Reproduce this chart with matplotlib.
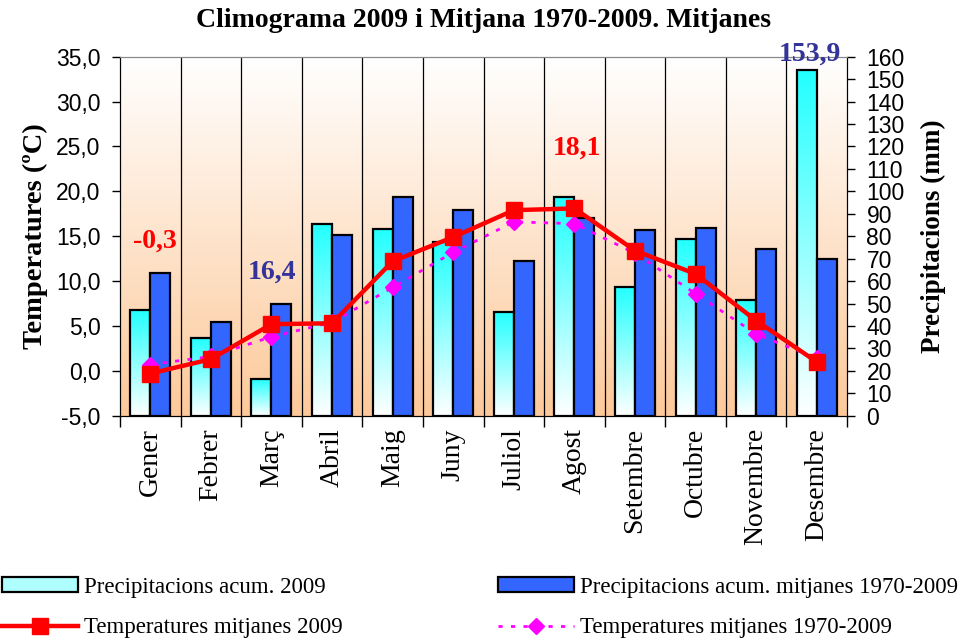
import numpy as np
import matplotlib
matplotlib.use("Agg")
import matplotlib.pyplot as plt
from matplotlib.patches import Patch
from matplotlib.lines import Line2D
from matplotlib.colors import LinearSegmentedColormap

months = ["Gener", "Febrer", "Març", "Abril", "Maig", "Juny",
          "Juliol", "Agost", "Setembre", "Octubre", "Novembre", "Desembre"]
prec_2009 = [47.1, 34.5, 16.4, 85.6, 83.1, 77.6, 46.4, 97.3, 57.5, 78.9, 51.7, 153.9]
prec_mean = [63.4, 41.6, 49.8, 80.5, 97.3, 91.5, 69.1, 88.0, 82.6, 83.8, 74.1, 70.0]
temp_2009 = [-0.3, 1.3, 5.2, 5.3, 12.2, 14.9, 17.9, 18.1, 13.4, 10.8, 5.6, 1.0]
temp_mean = [0.7, 1.6, 3.8, 5.4, 9.3, 13.2, 16.6, 16.4, 13.1, 8.6, 4.1, 1.4]

serif = ["Liberation Serif", "DejaVu Serif"]
sans = ["Liberation Sans", "DejaVu Sans"]

def fmt(v):
    return f"{v:.1f}".replace(".", ",")

fig = plt.figure(figsize=(9.67, 6.38), dpi=100)
ax_p = fig.add_axes([0.1241, 0.3484, 0.7518, 0.5627])
ax_t = ax_p.twinx()

x = np.arange(len(months))

# background gradient white (top) -> orange (bottom)
bg = LinearSegmentedColormap.from_list("bg", ["#FDC99A", "#FFFFFF"])
ax_p.imshow(np.linspace(0, 1, 256).reshape(-1, 1), cmap=bg, aspect="auto",
            extent=(-0.5, 11.5, 0, 160), origin="lower", zorder=0)

# month separators
for b in np.arange(0.5, 11.5, 1):
    ax_p.axvline(b, color="black", lw=0.9, zorder=1)

w = 0.33
cy = LinearSegmentedColormap.from_list("cy", ["#FFFFFF", "#22FFFF"])
bars = ax_p.bar(x - w / 2, prec_2009, w, facecolor="none", edgecolor="black",
                linewidth=1.6, zorder=3)
for b in bars:
    bx, by = b.get_x(), b.get_y()
    im = ax_p.imshow(np.linspace(0, 1, 256).reshape(-1, 1), cmap=cy, aspect="auto",
                     extent=(bx, bx + b.get_width(), by, by + b.get_height()),
                     origin="lower", zorder=2)
    im.set_clip_path(b)
ax_p.bar(x + w / 2, prec_mean, w, color="#3366FF", edgecolor="black",
         linewidth=1.6, zorder=3)
ax_p.set_xlim(-0.5, 11.5)
ax_p.set_ylim(0, 160)
ax_t.set_ylim(-5, 35)

ax_t.plot(x, temp_mean, color="#FF00FF", lw=2, ls=(0, (1.5, 3)), marker="D",
          markersize=8, zorder=4)
ax_t.plot(x, temp_2009, color="#FF0000", lw=3.2, marker="s", markersize=11, zorder=5)

# axes styling
ax_p.yaxis.tick_right()
ax_p.yaxis.set_label_position("right")
ax_t.yaxis.tick_left()
ax_t.yaxis.set_label_position("left")
ax_p.set_yticks(np.arange(0, 161, 10))
ax_t.set_yticks(np.arange(-5, 36, 5))
ax_t.set_yticklabels([fmt(v) for v in np.arange(-5, 36, 5)])
for a in (ax_p, ax_t):
    for lab in a.get_yticklabels():
        lab.set_family(sans)
        lab.set_fontsize(16.5)
    a.tick_params(axis="y", direction="out", length=6, width=1, pad=8)
    a.spines["top"].set_color("#888888")

ax_p.set_xticks(np.arange(-0.5, 12, 1))
ax_p.set_xticklabels([])
ax_p.set_xticks(x, minor=True)
ax_p.set_xticklabels(months, minor=True, rotation=90, family=serif, fontsize=20)
ax_p.tick_params(axis="x", which="major", direction="out", length=8, width=1)
ax_p.tick_params(axis="x", which="minor", length=0, pad=9)

ax_t.set_ylabel("Temperatures (ºC)", family=serif, fontweight="bold", fontsize=20.5,
                labelpad=6)
ax_p.set_ylabel("Precipitacions (mm)", family=serif, fontweight="bold", fontsize=19.5,
                labelpad=12)
fig.text(0.5, 0.987, "Climograma 2009 i Mitjana 1970-2009. Mitjanes", family=serif,
         fontweight="bold", fontsize=20, ha="center", va="top")

# value labels: min/max
imin_t, imax_t = int(np.argmin(temp_2009)), int(np.argmax(temp_2009))
imin_p, imax_p = int(np.argmin(prec_2009)), int(np.argmax(prec_2009))
lab_kw = dict(family=serif, fontweight="bold", fontsize=20, ha="center", va="center",
              clip_on=False, zorder=6)
ax_t.text(imin_t + 0.07, 14.5, fmt(temp_2009[imin_t]), color="#FF0000", **lab_kw)
ax_t.text(imax_t + 0.04, 24.8, fmt(temp_2009[imax_t]), color="#FF0000", **lab_kw)
ax_t.text(imin_p + 0.01, 11.0, fmt(prec_2009[imin_p]), color="#333399", **lab_kw)
ax_t.text(imax_p - 0.11, 35.3, fmt(prec_2009[imax_p]), color="#333399", **lab_kw)

handles = [
    Patch(facecolor="#B0FFFF", edgecolor="black", linewidth=1.6),
    Line2D([], [], color="#FF0000", lw=3.2, marker="s", markersize=11),
    Patch(facecolor="#3366FF", edgecolor="black", linewidth=1.6),
    Line2D([], [], color="#FF00FF", lw=2, ls=(0, (1.5, 3)), marker="D", markersize=8),
]
labels = ["Precipitacions acum. 2009", "Temperatures mitjanes 2009",
          "Precipitacions acum. mitjanes 1970-2009", "Temperatures mitjanes 1970-2009"]
fig.legend(handles, labels, ncol=2, loc="lower left", bbox_to_anchor=(0.0, -0.004),
           frameon=False, prop={"family": serif, "size": 16.5},
           handlelength=3.3, handleheight=0.6, handletextpad=0.25, labelspacing=0.85,
           columnspacing=6.8, borderaxespad=0.0, borderpad=0.1)

fig.savefig("out.png", dpi=100)
